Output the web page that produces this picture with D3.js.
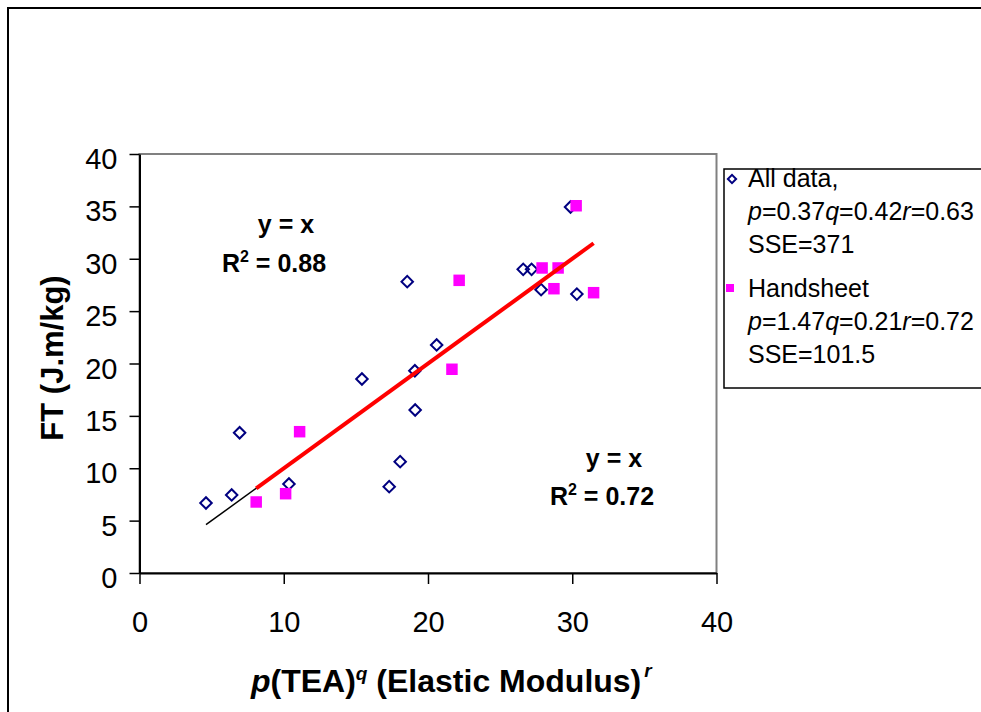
<!DOCTYPE html>
<html><head><meta charset="utf-8">
<script src="https://cdn.jsdelivr.net/npm/d3@7"></script>
<style>body{margin:0;background:#fff;overflow:hidden} svg{display:block}</style>
</head><body>
<svg id="c" width="981" height="712"></svg>
<script>
// ---- data ----
const allX = [4.61, 6.39, 6.94, 10.36, 15.42, 17.31, 18.07, 18.56, 19.09, 19.11, 20.60, 26.60, 27.18, 27.84, 29.88, 30.32];
const allY = [6.68, 7.45, 13.39, 8.50, 18.52, 8.24, 10.63, 27.81, 19.31, 15.56, 21.77, 28.99, 28.99, 27.05, 34.94, 26.63];
const handX = [8.09, 10.13, 11.10, 21.66, 22.16, 27.91, 29.02, 28.73, 30.27, 31.48];
const handY = [6.78, 7.57, 13.49, 19.45, 27.94, 29.12, 29.12, 27.14, 35.06, 26.76];
const xTicks = [0, 10, 20, 30, 40];
const yTicks = [0, 5, 10, 15, 20, 25, 30, 35, 40];
const seriesNames = ["All data,", "Handsheet"];
const seriesParams = [["0.37", "0.42", "0.63", "371"], ["1.47", "0.21", "0.72", "101.5"]];
const fitLabels = [["y = x", "0.88"], ["y = x", "0.72"]];

const FONT = '"Liberation Sans", Arial, Helvetica, sans-serif';
const svg = d3.select("#c").attr("font-family", FONT);
svg.append("rect").attr("width", 981).attr("height", 712).attr("fill", "#fff");
// outer chart border (cropped at right/bottom): only top and left edges visible
svg.append("path").attr("d", "M8,712V8H981").attr("fill", "none")
  .attr("stroke", "#000").attr("stroke-width", 2);

const L = 139.5, R = 716.5, T = 154, B = 573;
const x = d3.scaleLinear().domain([0, 40]).range([L, R]);
const y = d3.scaleLinear().domain([0, 40]).range([B, T]);

// plot area border
svg.append("rect").attr("x", L).attr("y", T).attr("width", R - L).attr("height", B - T)
  .attr("fill", "none").attr("stroke", "#808080").attr("stroke-width", 2);

// axes
const gy = svg.append("g").attr("transform", `translate(${L},0)`)
  .call(d3.axisLeft(y).tickValues(yTicks).tickSize(10).tickSizeOuter(0).tickPadding(12));
gy.attr("font-family", FONT).attr("font-size", 29);
gy.select(".domain").attr("stroke", "#000").attr("stroke-width", 2);
gy.selectAll(".tick line").attr("stroke", "#000").attr("stroke-width", 1.5);
gy.selectAll(".tick text").attr("fill", "#000").attr("dy", "0.5em");

const gx = svg.append("g").attr("transform", `translate(0,${B})`)
  .call(d3.axisBottom(x).tickValues(xTicks).tickSize(11).tickSizeOuter(0));
gx.attr("font-family", FONT).attr("font-size", 29);
gx.select(".domain").attr("stroke", "#000").attr("stroke-width", 2);
gx.selectAll(".tick line").attr("stroke", "#000").attr("stroke-width", 1.5);
gx.selectAll(".tick text").attr("fill", "#000").attr("y", 59).attr("dy", 0);

// axis titles
svg.append("text").attr("transform", "translate(63,358) rotate(-90)")
  .attr("text-anchor", "middle").attr("font-weight", "bold").attr("font-size", 31)
  .attr("fill", "#000").text("FT (J.m/kg)");

const xt = svg.append("text").attr("x", 251).attr("y", 692)
  .attr("font-weight", "bold").attr("font-size", 32).attr("fill", "#000");
xt.append("tspan").attr("font-style", "italic").text("p");
xt.append("tspan").text("(TEA)");
xt.append("tspan").attr("font-style", "italic").attr("font-size", 19).attr("dy", -12).text("q");
xt.append("tspan").attr("dy", 12).text(" (Elastic Modulus)");
xt.append("tspan").attr("font-style", "italic").attr("font-size", 19).attr("dx", 3).attr("dy", -15).text("r");

// markers
const allPts = allX.map((v, i) => [v, allY[i]]);
const handPts = handX.map((v, i) => [v, handY[i]]);
const diamond = d3.symbol().type(d3.symbolSquare).size(66);
const square = d3.symbol().type(d3.symbolSquare).size(132);

svg.append("g").selectAll("path").data(allPts).join("path")
  .attr("d", diamond)
  .attr("transform", d => `translate(${x(d[0])},${y(d[1])}) rotate(45)`)
  .attr("fill", "none").attr("stroke", "#000080").attr("stroke-width", 2);

svg.append("g").selectAll("path").data(handPts).join("path")
  .attr("d", square)
  .attr("transform", d => `translate(${x(d[0])},${y(d[1])})`)
  .attr("fill", "#FF00FF");

// trend lines y = x over each series' x range
const line = d3.line().x(d => x(d)).y(d => y(d));
svg.append("path").attr("d", line(d3.extent(allX))).attr("fill", "none")
  .attr("stroke", "#000").attr("stroke-width", 1.5);
svg.append("path").attr("d", line(d3.extent(handX))).attr("fill", "none")
  .attr("stroke", "#FF0000").attr("stroke-width", 4);

// fit annotations
function fitLabel(xc1, y1, xc2, y2, lab) {
  svg.append("text").attr("x", xc1).attr("y", y1).attr("text-anchor", "middle")
    .attr("font-weight", "bold").attr("font-size", 25).attr("fill", "#000").text(lab[0]);
  const t = svg.append("text").attr("x", xc2).attr("y", y2).attr("text-anchor", "middle")
    .attr("font-weight", "bold").attr("font-size", 25).attr("fill", "#000");
  t.append("tspan").text("R");
  t.append("tspan").attr("font-size", 16).attr("dy", -10).text("2");
  t.append("tspan").attr("dy", 10).text(" = " + lab[1]);
}
fitLabel(286, 233, 274, 272, fitLabels[0]);
fitLabel(614, 467, 602, 505, fitLabels[1]);

// legend (cropped at right)
svg.append("rect").attr("x", 724).attr("y", 169).attr("width", 300).attr("height", 219)
  .attr("fill", "#fff").attr("stroke", "#000").attr("stroke-width", 1.5);
const lg = svg.append("g").attr("font-size", 25).attr("fill", "#000");
const bases = [[187, 220, 253], [297, 330, 363]];
seriesNames.forEach((name, i) => {
  const b = bases[i];
  if (i === 0) {
    lg.append("path").attr("d", d3.symbol().type(d3.symbolSquare).size(34)())
      .attr("transform", `translate(732,${b[0] - 8}) rotate(45)`)
      .attr("fill", "none").attr("stroke", "#000080").attr("stroke-width", 2);
  } else {
    lg.append("path").attr("d", d3.symbol().type(d3.symbolSquare).size(64)())
      .attr("transform", `translate(730,${b[0] - 9})`).attr("fill", "#FF00FF");
  }
  lg.append("text").attr("x", 748).attr("y", b[0]).text(name);
  const p = seriesParams[i];
  const t = lg.append("text").attr("x", 748).attr("y", b[1]);
  t.append("tspan").attr("font-style", "italic").text("p");
  t.append("tspan").text("=" + p[0]);
  t.append("tspan").attr("font-style", "italic").text("q");
  t.append("tspan").text("=" + p[1]);
  t.append("tspan").attr("font-style", "italic").text("r");
  t.append("tspan").text("=" + p[2]);
  lg.append("text").attr("x", 748).attr("y", b[2]).text("SSE=" + p[3]);
});
</script>
</body></html>
